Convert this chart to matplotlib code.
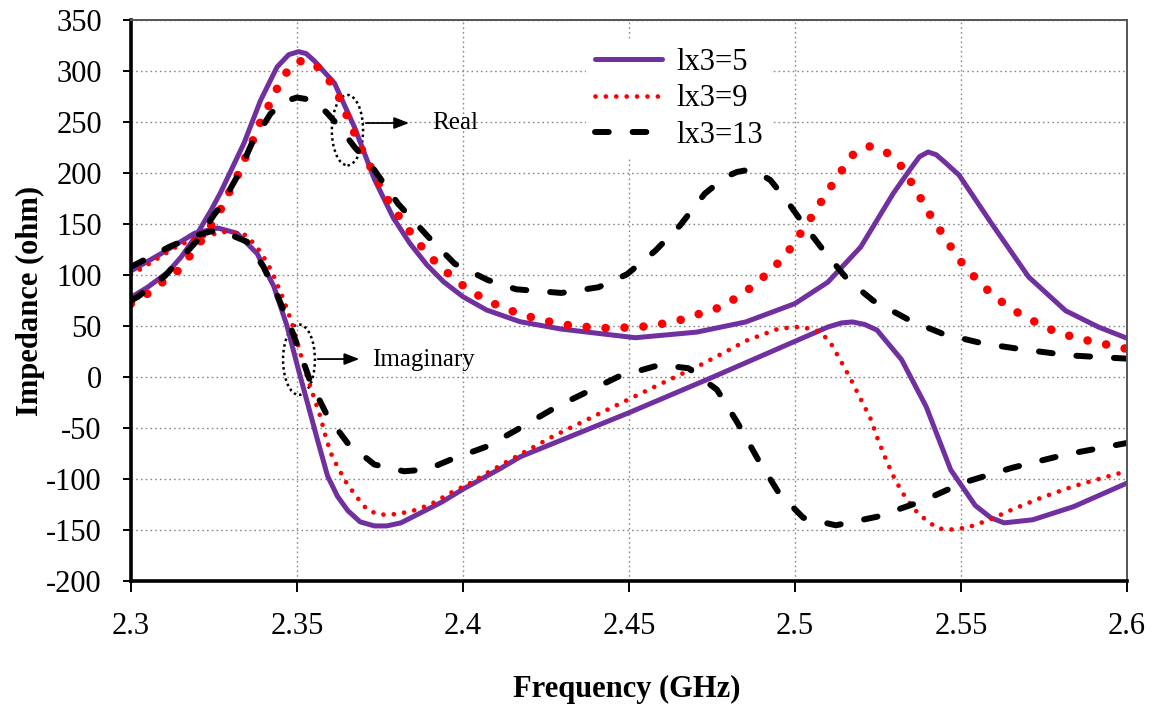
import matplotlib
matplotlib.use("Agg")
import matplotlib.pyplot as plt
from matplotlib.patches import Ellipse

plt.rcParams["font.family"] = ["Liberation Serif", "DejaVu Serif"]
plt.rcParams["axes.unicode_minus"] = False

PURPLE = "#7030A0"; RED = "#FF0000"; BLACK = "#000000"

# lx3 = 5
f5_re = [2.300, 2.305, 2.311, 2.3152, 2.3197, 2.3242, 2.327, 2.334, 2.339, 2.344, 2.3475,
         2.3505, 2.3528, 2.3552, 2.3613, 2.3673, 2.3733, 2.379, 2.384, 2.3891, 2.3941,
         2.400, 2.4071, 2.4172, 2.4296, 2.4519, 2.4704, 2.4852, 2.500, 2.5099, 2.5198,
         2.5296, 2.535, 2.5375, 2.5401, 2.5425, 2.545, 2.5494, 2.5593, 2.5704, 2.5815,
         2.5914, 2.600]
z5_re = [78, 88, 102.5, 118, 139, 164, 181, 229, 271, 304, 316,
         319, 317, 310, 288, 245, 194, 156, 131, 110, 93.5,
         78.7, 65.7, 54.2, 47, 38.5, 44, 54, 72, 93, 127.5,
         180, 205, 216, 220.6, 218, 211, 198, 150, 98, 65,
         49, 38]
f5_im = [2.300, 2.3091, 2.3192, 2.3262, 2.3319, 2.338, 2.343, 2.347, 2.3502, 2.3542,
         2.3562, 2.3592, 2.3622, 2.3653, 2.369, 2.3733, 2.377, 2.3813, 2.3934, 2.400,
         2.4111, 2.4174, 2.450, 2.4753, 2.500, 2.5099, 2.514, 2.5173, 2.521, 2.5247,
         2.5321, 2.5395, 2.5469, 2.5543, 2.559, 2.563, 2.5716, 2.584, 2.600]
z5_im = [104, 121, 141, 146, 141, 121, 89, 50, 10, -38,
         -62, -97, -117, -131, -142, -146, -146, -143, -123, -110,
         -90, -78, -35, 0, 35, 49, 53, 54, 51.5, 46,
         17, -29, -91, -126, -138, -143, -140, -127, -104]

# lx3 = 9
f9_re = [2.300, 2.3047, 2.3091, 2.3138, 2.3173, 2.3208, 2.3238, 2.3269, 2.3294, 2.3319,
         2.3341, 2.3364, 2.3384, 2.3409, 2.3434, 2.3459, 2.3497, 2.352, 2.355, 2.3588,
         2.3619, 2.3641, 2.3663, 2.3686, 2.3711, 2.3736, 2.3761, 2.3791, 2.3822, 2.3857,
         2.3892, 2.3932, 2.3973, 2.4018, 2.4068, 2.4118, 2.4167, 2.4222, 2.4278, 2.4333,
         2.4389, 2.4444, 2.4502, 2.4558, 2.4614, 2.4669, 2.4725, 2.4778, 2.4825, 2.4873,
         2.4914, 2.4953, 2.499, 2.5021, 2.5052, 2.5083, 2.5114, 2.5144, 2.5177, 2.5228,
         2.5278, 2.5319, 2.535, 2.5378, 2.5406, 2.5436, 2.5467, 2.5499, 2.5536, 2.5575,
         2.5617, 2.5664, 2.5714, 2.5763, 2.5817, 2.587, 2.5926, 2.5981, 2.600]
z9_re = [72, 81, 92, 103, 117, 132, 147, 163.6, 180, 196,
         212.5, 229.5, 246, 262, 279, 295, 309, 310, 308, 295,
         280, 263, 247, 229, 212.5, 197, 180, 165, 150.5, 135,
         121, 108, 96.7, 85, 76, 68, 62.5, 57, 53, 50,
         48.7, 47.7, 48.7, 49.7, 53, 57, 63.4, 68.6, 78, 89,
         100.7, 113, 127.5, 143, 158, 174, 189.5, 204, 219, 226.5,
         219.6, 207, 191, 175.5, 159.5, 144.4, 128.8, 113.4, 99.7, 86.7,
         75, 64.4, 55.6, 47.4, 41.2, 36.6, 32.7, 28.8, 27.5]
f9_im = [2.300, 2.3057, 2.3138, 2.3208, 2.3289, 2.3349, 2.3394, 2.3425, 2.346, 2.3485,
         2.351, 2.353, 2.355, 2.357, 2.3586, 2.3601, 2.3621, 2.3651, 2.3681, 2.3711,
         2.3746, 2.3782, 2.3842, 2.3902, 2.3963, 2.4023, 2.4073, 2.413, 2.4272, 2.442,
         2.4568, 2.4716, 2.4858, 2.4951, 2.5019, 2.5074, 2.5105, 2.5136, 2.5169, 2.5198,
         2.5228, 2.5249, 2.5274, 2.530, 2.5333, 2.5373, 2.5426, 2.5457, 2.5519, 2.5584,
         2.5654, 2.5741, 2.584, 2.5926, 2.600]
z9_im = [100, 111.5, 128, 137.6, 142.5, 139, 121, 103, 75.6, 52.8,
         23.4, 0.6, -19, -38.5, -58, -74, -87.5, -105, -118, -130,
         -134.8, -135, -132, -125, -113.6, -103.8, -94, -83.5, -58, -34.4,
         -11, 11.9, 36.3, 47.4, 49.3, 44.5, 34.7, 16.8, -2.8, -21.7,
         -41.2, -60.7, -80.9, -99.8, -118.4, -134.7, -147.7, -150, -147.7, -140.2,
         -130, -118.4, -107, -99, -92.3]

# lx3 = 13
f13_re = [2.300, 2.302, 2.3102, 2.320, 2.325, 2.3269, 2.3319, 2.3364, 2.342, 2.346,
          2.350, 2.3537, 2.3587, 2.3623, 2.3673, 2.3733, 2.3804, 2.3895, 2.3975, 2.4075,
          2.416, 2.4296, 2.4408, 2.4494, 2.458, 2.4654, 2.4728, 2.479, 2.4825, 2.4858,
          2.489, 2.4926, 2.4975, 2.5025, 2.5086, 2.516, 2.5235, 2.5346, 2.5444, 2.5568,
          2.5691, 2.5827, 2.600]
z13_re = [75, 78.5, 99, 134, 159, 167, 196, 229, 258, 270,
          274, 272, 260, 247, 225.6, 203, 170, 137.5, 111, 95,
          86, 82.4, 88, 100.7, 124, 148.7, 179.7, 196, 201, 203,
          200, 193, 173, 150, 124, 95, 75, 55.5, 42.5, 32.7,
          26.8, 21.2, 18]
f13_im = [2.300, 2.3118, 2.3198, 2.3238, 2.3269, 2.3349, 2.3399, 2.344, 2.348, 2.351,
          2.354, 2.3592, 2.3652, 2.3733, 2.3822, 2.3892, 2.3963, 2.4073, 2.4163, 2.4284,
          2.4469, 2.4593, 2.4679, 2.4765, 2.4827, 2.4889, 2.4951, 2.5025, 2.5123, 2.5247,
          2.5383, 2.5506, 2.5654, 2.5815, 2.600]
z13_im = [108, 128, 139, 142.5, 143.5, 132.7, 108, 80.5, 49.5, 23.4,
          -4.4, -38.5, -64.6, -85.8, -92.4, -90.7, -81, -68, -51.6, -28.8,
          0.5, 11.9, 8.6, -12.5, -45, -81, -113.5, -138, -145.4, -137,
          -121.7, -103.7, -89, -76, -64.7]

x_ticks = [2.3, 2.35, 2.4, 2.45, 2.5, 2.55, 2.6]
x_labels = ["2.3", "2.35", "2.4", "2.45", "2.5", "2.55", "2.6"]
y_ticks = list(range(-200, 351, 50))

fig = plt.figure(figsize=(11.6, 7.09), dpi=100)
ax = fig.add_axes([131 / 1160, 1 - 581 / 709, 996 / 1160, 561 / 709])

solid = dict(color=PURPLE, lw=3.6, solid_capstyle="round", solid_joinstyle="round")
big_dot = dict(color=RED, lw=6.2, linestyle=(0, (0.001, 2.2)), dash_capstyle="round")
small_dot = dict(color=RED, lw=3.4, linestyle=(0, (0.001, 2.2)), dash_capstyle="round")
dash = dict(color=BLACK, lw=4.3, linestyle=(0, (2.3, 4.0)), dash_capstyle="round")

ax.plot(f5_re, z5_re, **solid)
ax.plot(f5_im, z5_im, label="lx3=5", **solid)
ax.plot(f9_re, z9_re, **big_dot)
ax.plot(f9_im, z9_im, label="lx3=9", **small_dot)
ax.plot(f13_re, z13_re, **dash)
ax.plot(f13_im, z13_im, label="lx3=13", **dash)

ax.set_xlim(2.3, 2.6)
ax.set_ylim(-200, 350)
ax.set_xticks(x_ticks)
ax.set_xticklabels(x_labels)
ax.set_yticks(y_ticks)
ax.grid(True, color="#8a8a8a", lw=1.0, linestyle=(0, (1.2, 2.2)))
ax.set_axisbelow(True)

for s in ("left", "bottom"):
    ax.spines[s].set_linewidth(2.6)
    ax.spines[s].set_color("black")
for s in ("top", "right"):
    ax.spines[s].set_linewidth(1.4)
    ax.spines[s].set_color("#555555")
ax.tick_params(axis="y", direction="out", length=6, width=1.4, pad=15, labelsize=22)
ax.tick_params(axis="x", direction="out", length=8, width=1.4, pad=14, labelsize=22)

ax.set_xlabel("Frequency (GHz)", fontsize=22, fontweight="bold")
ax.set_ylabel("Impedance (ohm)", fontsize=22, fontweight="bold")
ax.xaxis.set_label_coords(0.498, -0.167)
ax.yaxis.set_label_coords(-0.086, 0.5)

leg = ax.legend(loc="upper left", bbox_to_anchor=((586 - 131) / 996, 1 - (39 - 20) / 561),
                fontsize=22, frameon=True, fancybox=False, handlelength=2.2,
                handletextpad=0.45, labelspacing=0.24, borderpad=0.3, borderaxespad=0)
leg.get_frame().set_facecolor("white")
leg.get_frame().set_edgecolor("none")
leg.get_frame().set_alpha(1)

# "Real" / "Imaginary" callouts
ax.add_patch(Ellipse((2.3652, 242), 0.0094, 69, fill=False, ec="black", lw=1.8,
                     linestyle=(0, (1, 1.3))))
ax.annotate("", xy=(2.3846, 249), xytext=(2.3699, 249),
            arrowprops=dict(arrowstyle="-|>,head_length=0.9,head_width=0.35", lw=1.3, color="black"))
ax.text(2.3907, 249, "Real", fontsize=18, va="center", ha="left")

ax.add_patch(Ellipse((2.3506, 17), 0.0096, 69, fill=False, ec="black", lw=1.8,
                     linestyle=(0, (1, 1.3))))
ax.annotate("", xy=(2.3696, 17.6), xytext=(2.3554, 17.6),
            arrowprops=dict(arrowstyle="-|>,head_length=0.9,head_width=0.35", lw=1.3, color="black"))
ax.text(2.3726, 17, "Imaginary", fontsize=18, va="center", ha="left")

fig.savefig("out.png", dpi=100, facecolor="white")
